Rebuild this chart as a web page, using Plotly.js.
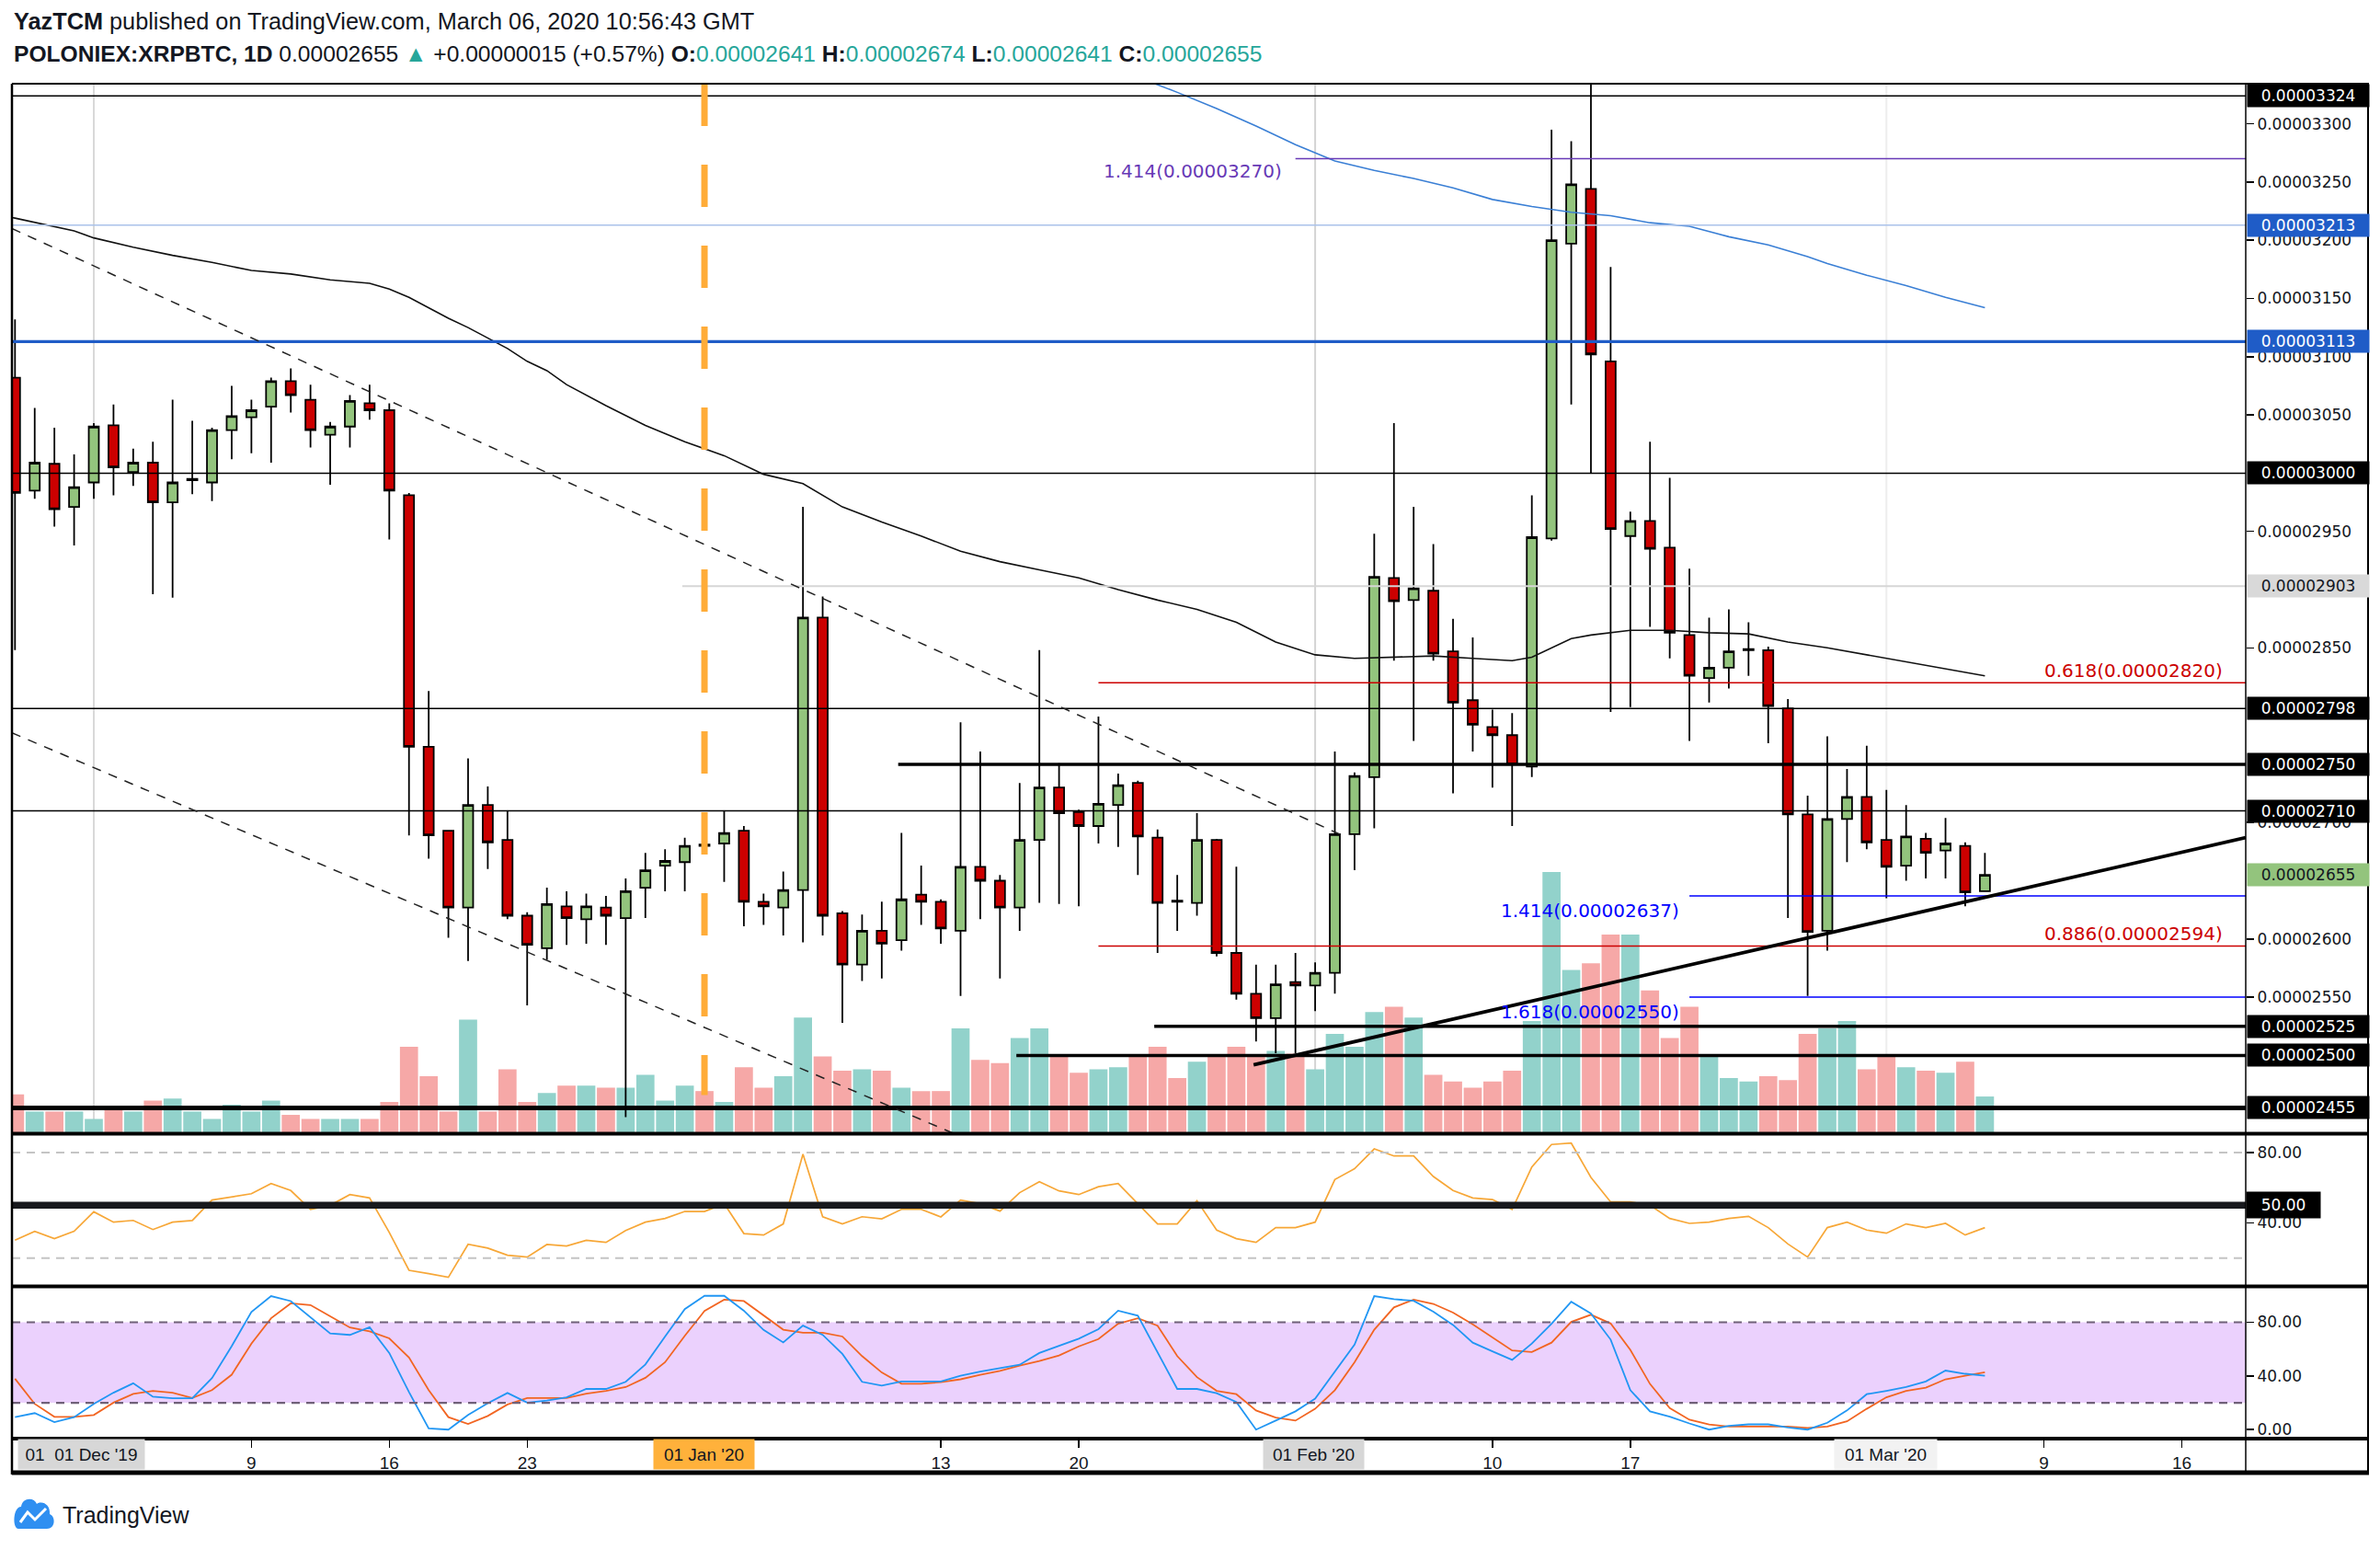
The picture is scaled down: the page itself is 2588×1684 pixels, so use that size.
<!DOCTYPE html>
<html>
<head>
<meta charset="utf-8">
<script src="https://cdn.plot.ly/plotly-3.0.1.min.js"></script>
<style>html,body{margin:0;padding:0;background:#ffffff;}#chart{width:2588px;height:1684px;}</style>
</head>
<body>
<div id="chart"></div>
<script>
// ---------------- DATA (prices in satoshi = 1e-8 BTC) ----------------
const dates = [
'2019-11-27','2019-11-28','2019-11-29','2019-11-30',
'2019-12-01','2019-12-02','2019-12-03','2019-12-04','2019-12-05','2019-12-06','2019-12-07','2019-12-08','2019-12-09','2019-12-10',
'2019-12-11','2019-12-12','2019-12-13','2019-12-14','2019-12-15','2019-12-16','2019-12-17','2019-12-18','2019-12-19','2019-12-20',
'2019-12-21','2019-12-22','2019-12-23','2019-12-24','2019-12-25','2019-12-26','2019-12-27','2019-12-28','2019-12-29','2019-12-30','2019-12-31',
'2020-01-01','2020-01-02','2020-01-03','2020-01-04','2020-01-05','2020-01-06','2020-01-07','2020-01-08','2020-01-09','2020-01-10',
'2020-01-11','2020-01-12','2020-01-13','2020-01-14','2020-01-15','2020-01-16','2020-01-17','2020-01-18','2020-01-19','2020-01-20',
'2020-01-21','2020-01-22','2020-01-23','2020-01-24','2020-01-25','2020-01-26','2020-01-27','2020-01-28','2020-01-29','2020-01-30','2020-01-31',
'2020-02-01','2020-02-02','2020-02-03','2020-02-04','2020-02-05','2020-02-06','2020-02-07','2020-02-08','2020-02-09','2020-02-10',
'2020-02-11','2020-02-12','2020-02-13','2020-02-14','2020-02-15','2020-02-16','2020-02-17','2020-02-18','2020-02-19','2020-02-20',
'2020-02-21','2020-02-22','2020-02-23','2020-02-24','2020-02-25','2020-02-26','2020-02-27','2020-02-28','2020-02-29',
'2020-03-01','2020-03-02','2020-03-03','2020-03-04','2020-03-05','2020-03-06'];

const openSat = [3082,2985,3008,2971,
2992,3041,3001,3009,2975,2994,2992,3037,3048,3057,3079,3063,3033,3040,3060,3054,2981,2765,2693,2627,2715,2685,2620,2592,2628,2617,2627,2618,2644,2663,2666,
2681,2682,2693,2632,2627,2642,2876,2622,2578,2607,2599,2638,2632,2607,2662,2650,2627,2685,2730,2709,2697,2715,2734,2687,2633,2631,2685,2588,2553,2532,2563,
2560,2571,2690,2739,2910,2891,2899,2847,2805,2782,2775,2748,2944,3197,3244,3096,2946,2959,2936,2861,2824,2833,2848,2848,2798,2707,2607,2703,2722,
2685,2663,2686,2676,2680,2641];
const highSat = [3132,3056,3039,3016,
3043,3059,3021,3027,3063,3045,3039,3075,3063,3082,3090,3076,3044,3067,3076,3060,2983,2813,2693,2755,2731,2710,2623,2644,2641,2639,2637,2652,2674,2677,2687,
2702,2710,2697,2639,2658,2971,2894,2624,2621,2632,2691,2663,2634,2786,2761,2655,2734,2848,2751,2711,2791,2742,2736,2694,2655,2708,2686,2662,2578,2578,2588,
2580,2761,2743,2948,3043,2971,2939,2875,2859,2797,2794,2981,3295,3285,3345,3177,2967,3027,2996,2918,2876,2883,2872,2851,2806,2723,2774,2746,2766,
2728,2715,2691,2704,2683,2674];
const lowSat = [2848,2978,2954,2938,
2978,2981,2989,2896,2893,2982,2976,3012,3017,3009,3052,3022,2990,3022,3046,2943,2689,2669,2601,2581,2660,2617,2543,2582,2595,2596,2595,2447,2618,2641,2641,
2675,2649,2611,2612,2603,2597,2603,2528,2564,2566,2590,2612,2596,2551,2617,2566,2607,2631,2630,2628,2682,2679,2655,2588,2607,2620,2585,2548,2512,2502,2502,
2538,2553,2659,2695,2839,2770,2839,2725,2761,2730,2697,2739,2942,3059,3000,2795,2799,2868,2841,2770,2803,2815,2826,2768,2618,2551,2590,2666,2677,
2635,2650,2652,2652,2628,2641];
const closeSat = [2983,3009,2969,2988,
3040,3005,3009,2975,2992,2995,3037,3049,3054,3079,3067,3037,3040,3062,3054,2985,2765,2689,2627,2715,2683,2620,2595,2630,2618,2628,2620,2641,2659,2667,2680,
2680,2691,2632,2628,2642,2876,2620,2578,2607,2596,2634,2632,2609,2662,2650,2627,2685,2730,2708,2697,2716,2732,2688,2631,2632,2685,2588,2553,2532,2561,2560,
2571,2690,2740,2911,2890,2901,2845,2803,2784,2775,2750,2945,3200,3248,3102,2952,2959,2935,2863,2826,2833,2847,2849,2800,2707,2606,2703,2722,2683,
2662,2688,2674,2682,2640,2655];

const volume = [57,32,32,32,
21,40,32,48,51,32,21,42,32,48,27,21,21,21,21,46,127,84,32,167,32,94,46,59,70,70,67,67,86,48,70,
62,46,97,67,84,170,113,92,94,92,67,62,62,154,108,103,140,154,113,89,94,97,113,127,81,105,113,127,113,121,117,
94,146,127,178,186,170,86,76,67,76,92,165,384,240,250,292,292,210,140,186,115,81,76,84,78,146,154,165,94,
115,97,92,89,105,54];

const rsi = [30.1,35.2,31.0,35.2,
46.3,40.4,41.4,36.2,40.4,41.3,53.0,54.9,56.6,62.4,58.4,47.7,50.0,56.1,54.2,34.5,13.0,11.1,9.0,27.8,25.6,21.6,20.5,27.7,26.8,30.1,28.9,35.7,40.4,42.5,46.5,
46.5,50.9,33.9,33.1,39.4,79.1,43.5,39.4,43.5,42.3,47.7,47.7,43.4,53.0,50.9,46.7,57.2,63.4,58.2,56.1,60.6,62.4,50.9,39.4,39.4,52.6,35.9,31.0,28.9,37.3,37.3,
40.4,64.7,70.8,82.1,78.1,78.1,66.4,58.4,54.2,53.3,47.7,71.8,84.6,85.4,65.9,51.9,51.9,50.0,42.5,39.7,40.4,42.5,43.7,37.3,28.0,20.5,37.3,40.4,35.9,
34.1,39.4,37.3,39.7,33.1,37.3];

const stochK = [9.3,12.3,5.6,9.3,
19.2,27.5,34.5,24.5,23.4,23.4,38.4,62.2,87.7,99.5,95.8,84.0,71.7,70.6,76.3,57.1,28.0,0.9,0.0,10.9,19.7,27.3,20.1,21.7,24.1,30.3,30.3,35.6,48.6,69.4,89.8,
99.7,99.7,88.6,74.3,65.0,77.5,70.6,56.4,35.6,32.8,35.9,35.9,35.9,40.2,43.3,45.8,48.3,57.1,62.2,67.8,74.9,88.6,84.9,57.1,30.3,30.3,27.1,20.6,0.0,6.7,13.6,
23.1,43.3,63.4,99.5,97.2,96.0,87.9,78.0,64.8,58.3,52.0,64.1,78.9,95.3,86.5,67.1,29.4,13.6,9.7,4.6,0.0,2.8,3.9,3.9,1.6,0.0,5.1,14.3,26.4,
28.9,31.7,35.9,44.0,41.6,40.2];
const stochD = [37.9,19.2,9.5,9.5,
10.9,20.1,26.6,28.9,27.5,23.6,29.4,40.9,64.1,83.0,94.1,92.8,84.4,76.1,73.3,68.0,53.7,29.4,9.3,4.2,10.2,18.7,23.6,23.6,23.6,26.8,28.9,31.7,38.6,50.2,69.9,
88.4,96.9,95.8,84.9,74.5,72.2,72.2,69.4,54.8,42.6,34.2,34.2,35.4,37.5,40.9,43.7,47.7,51.1,55.3,62.0,67.5,78.9,83.0,77.5,54.8,39.1,28.9,26.4,14.3,9.0,6.7,
15.5,29.4,50.2,74.5,91.1,96.9,93.7,87.2,78.4,68.7,59.0,57.8,64.8,80.3,85.6,79.1,59.4,34.0,16.0,7.4,3.9,2.3,2.3,2.3,2.3,1.2,2.3,6.2,15.5,
24.1,28.9,31.2,37.5,40.2,42.8];

const maBlackDates = ['2019-11-26','2019-11-27','2019-11-30','2019-12-01','2019-12-03','2019-12-05','2019-12-07','2019-12-09','2019-12-11','2019-12-13','2019-12-15',
'2019-12-16','2019-12-17','2019-12-18','2019-12-19','2019-12-20','2019-12-21','2019-12-22','2019-12-23','2019-12-24','2019-12-25','2019-12-27','2019-12-29','2019-12-31',
'2020-01-02','2020-01-04','2020-01-06','2020-01-08','2020-01-10','2020-01-12','2020-01-14','2020-01-16','2020-01-18','2020-01-20','2020-01-22','2020-01-24',
'2020-01-26','2020-01-28','2020-01-30','2020-02-01','2020-02-03','2020-02-05','2020-02-07','2020-02-09','2020-02-11','2020-02-12','2020-02-13','2020-02-14',
'2020-02-15','2020-02-17','2020-02-19','2020-02-21','2020-02-23','2020-02-25','2020-02-27','2020-03-01','2020-03-03','2020-03-06'];
const maBlackSat = [3222,3219,3208,3202,3194,3187,3181,3174,3171,3166,3163,
3158,3151,3142,3133,3125,3116,3107,3096,3088,3076,3058,3041,3027,
3015,2999,2991,2971,2958,2946,2933,2924,2917,2910,2900,2891,
2883,2872,2855,2844,2841,2842,2843,2841,2839,2842,2850,2858,
2861,2865,2865,2863,2862,2855,2850,2841,2835,2826];

const maBlueDates = ['2020-01-23','2020-01-25','2020-01-27','2020-01-29','2020-01-31','2020-02-02','2020-02-04','2020-02-06','2020-02-08','2020-02-10',
'2020-02-12','2020-02-14','2020-02-16','2020-02-18','2020-02-20','2020-02-22','2020-02-24','2020-02-26','2020-02-27','2020-02-29','2020-03-02','2020-03-04','2020-03-06'];
const maBlueSat = [3340,3327,3313,3298,3282,3268,3260,3253,3245,3235,
3229,3224,3221,3215,3212,3203,3196,3186,3180,3170,3161,3151,3142];

// visible price-scale ticks (the others sit under the level boxes)
const priceTicks = [2550,2600,2700,2850,2950,3050,3100,3150,3200,3250,3300];
const xTickDates = ['2019-12-01','2019-12-09','2019-12-16','2019-12-23','2020-01-01','2020-01-13','2020-01-20','2020-02-01','2020-02-10','2020-02-17','2020-03-01','2020-03-09','2020-03-16'];
const xTickText  = ['','9','16','23','','13','20','','10','17','','9','16'];

// key levels (satoshi)
const lvlTop = 3324, fibUp1414 = 3270, res3213 = 3213, res3113 = 3113, res3000 = 3000, lvl2903 = 2903,
      fib0618 = 2820, lvl2798 = 2798, lvl2750 = 2750, lvl2710 = 2710, fibDn1414 = 2637, fib0886 = 2594,
      fibDn1618 = 2550, sup2525 = 2525, sup2500 = 2500, sup2455 = 2455, lastPrice = 2655;
const trendUp = {d0:'2020-01-28 21:00', v0:2492, d1:'2020-03-19 05:46', v1:2687};
const trendDn1 = {d0:'2019-11-26 20:17', v0:3210, d1:'2020-02-02 15:00', v1:2687};
const trendDn2 = {d0:'2019-11-26 20:17', v0:2777, d1:'2020-01-13 19:00', v1:2432};

// ---------------- LAYOUT HELPERS ----------------
const W = 2588, H = 1684, ML = 13, MR = 146, MT = 91, MB = 119;
const PW = W - ML - MR, PH = H - MT - MB;
const px = X => (X - ML) / PW;
const py = Y => (H - MB - Y) / PH;
const SAT = 1e-8;
const P = v => v * SAT;
const xL = '2019-11-26 20:17', xR = '2020-03-19 05:46';
const UP = '#93c47d', DN = '#cc0000', TEAL = '#26a69a';
const mainDom = [py(1232), 1], rsiDom = [py(1398), py(1233)], stDom = [0, py(1399)];
const F_AX = 'DejaVu Sans, Verdana, sans-serif';
const F_TX = 'Liberation Sans, Arial, sans-serif';

const volColors = closeSat.map((c, i) => c >= openSat[i] ? '#92d2cb' : '#f6a8a7');

const traces = [
  {type:'bar', x:dates, y:volume, xaxis:'x', yaxis:'y', marker:{color:volColors, line:{width:0}}, hoverinfo:'skip'},
  {type:'candlestick', x:dates, open:openSat.map(P), high:highSat.map(P), low:lowSat.map(P), close:closeSat.map(P),
   xaxis:'x', yaxis:'y4', whiskerwidth:0,
   increasing:{fillcolor:UP, line:{color:'#000000', width:1.8}},
   decreasing:{fillcolor:DN, line:{color:'#000000', width:1.8}}, hoverinfo:'skip'},
  {type:'scatter', mode:'lines', x:maBlackDates, y:maBlackSat.map(P), xaxis:'x', yaxis:'y4', line:{color:'#111111', width:1.6}, hoverinfo:'skip'},
  {type:'scatter', mode:'lines', x:maBlueDates, y:maBlueSat.map(P), xaxis:'x', yaxis:'y4', line:{color:'#3a7fd5', width:1.6}, hoverinfo:'skip'},
  {type:'scatter', mode:'lines', x:dates, y:rsi, xaxis:'x', yaxis:'y2', line:{color:'#f7a737', width:1.7}, hoverinfo:'skip'},
  {type:'scatter', mode:'lines', x:dates, y:stochD, xaxis:'x', yaxis:'y3', line:{color:'#f26522', width:1.8}, hoverinfo:'skip'},
  {type:'scatter', mode:'lines', x:dates, y:stochK, xaxis:'x', yaxis:'y3', line:{color:'#2196f3', width:1.8}, hoverinfo:'skip'}
];

function hl(v, x0, color, width, dash) {
  return {type:'line', xref:'x', yref:'y4', x0:x0, x1:xR, y0:P(v), y1:P(v), line:{color:color, width:width, dash:dash || 'solid'}};
}
function seg(t, color, width, dash) {
  return {type:'line', xref:'x', yref:'y4', x0:t.d0, x1:t.d1, y0:P(t.v0), y1:P(t.v1), line:{color:color, width:width, dash:dash || 'solid'}};
}
function pline(x0, y0, x1, y1, w, c) {
  return {type:'line', xref:'paper', yref:'paper', x0:x0, x1:x1, y0:y0, y1:y1, line:{color:c || '#000000', width:w}};
}

const shapes = [
  {type:'line', layer:'below', xref:'x', yref:'paper', x0:'2019-12-01', x1:'2019-12-01', y0:mainDom[0], y1:1, line:{color:'#d9d9d9', width:2}},
  {type:'line', layer:'below', xref:'x', yref:'paper', x0:'2020-02-01', x1:'2020-02-01', y0:mainDom[0], y1:1, line:{color:'#d4d4d4', width:2}},
  {type:'line', layer:'below', xref:'x', yref:'paper', x0:'2020-03-01', x1:'2020-03-01', y0:mainDom[0], y1:1, line:{color:'#eeeeee', width:2}},
  hl(lvlTop, xL, '#000000', 1.5),
  hl(fibUp1414, '2020-01-31', '#6739b6', 1.5),
  hl(res3213, xL, '#aac2ea', 1.5),
  hl(res3113, xL, '#1f5cc7', 3.2),
  hl(res3000, xL, '#000000', 1.5),
  hl(lvl2903, '2019-12-30 21:00', '#d6d6d6', 2),
  hl(fib0618, '2020-01-21', '#cc0000', 1.5),
  hl(lvl2798, xL, '#000000', 1.5),
  hl(lvl2750, '2020-01-10 20:00', '#000000', 3.5),
  hl(lvl2710, xL, '#000000', 1.5),
  hl(fibDn1414, '2020-02-20', '#0000ff', 1.5),
  hl(fib0886, '2020-01-21', '#cc0000', 1.5),
  hl(fibDn1618, '2020-02-20', '#0000ff', 1.5),
  hl(sup2525, '2020-01-23 20:00', '#000000', 3.5),
  hl(sup2500, '2020-01-16 20:00', '#000000', 3.5),
  hl(sup2455, xL, '#000000', 5),
  seg(trendDn1, '#222222', 1.5, '10px,9px'),
  seg(trendDn2, '#222222', 1.5, '10px,9px'),
  seg(trendUp, '#000000', 3.8),
  {type:'line', xref:'x', yref:'y4', x0:'2020-01-01', x1:'2020-01-01', y0:P(3334.4), y1:P(2466), line:{color:'#ffac38', width:7, dash:'46px,42px'}},
  {type:'line', xref:'x', yref:'y2', x0:xL, x1:xR, y0:80, y1:80, line:{color:'#c4c4c4', width:2, dash:'9px,7px'}},
  {type:'line', xref:'x', yref:'y2', x0:xL, x1:xR, y0:20, y1:20, line:{color:'#c4c4c4', width:2, dash:'9px,7px'}},
  {type:'line', xref:'x', yref:'y2', x0:xL, x1:xR, y0:50, y1:50, line:{color:'#18191d', width:7.5}},
  {type:'rect', layer:'below', xref:'x', yref:'y3', x0:xL, x1:xR, y0:20, y1:80, fillcolor:'#ebd1fd', line:{width:0}},
  {type:'line', xref:'x', yref:'y3', x0:xL, x1:xR, y0:80, y1:80, line:{color:'#706179', width:2.2, dash:'9px,7px'}},
  {type:'line', xref:'x', yref:'y3', x0:xL, x1:xR, y0:20, y1:20, line:{color:'#706179', width:2.2, dash:'9px,7px'}},
  pline(0, 1, px(2576), 1, 2),
  pline(0, py(1232.5), px(2576), py(1232.5), 4),
  pline(0, py(1398.5), px(2576), py(1398.5), 4),
  pline(0, py(1564), px(2576), py(1564), 4),
  pline(0, py(1601), px(2576), py(1601), 5),
  pline(0, py(1603), 0, 1, 2.5),
  pline(1, py(1601), 1, 1, 1.5),
  pline(px(2575), py(1603), px(2575), 1, 2),
  {type:'path', xref:'paper', yref:'paper', xsizemode:'pixel', ysizemode:'pixel', xanchor:0, yanchor:py(1647),
   path:'M 7,-15 L 38,-15 C 47,-15 48,-2 41,1 C 42,11 33,16 27,12 C 24,20 11,19 10,9 C 1,9 0,-15 7,-15 Z',
   fillcolor:'#2f8ff1', line:{width:0}},
  {type:'path', xref:'paper', yref:'paper', xsizemode:'pixel', ysizemode:'pixel', xanchor:0, yanchor:py(1647),
   path:'M 9,-8 L 17,3 L 25,-5 L 37,7', line:{color:'#ffffff', width:3}}
];

function priceBox(v, bg, fg) {
  return {xref:'paper', yref:'y4', x:px(2443), y:P(v), xanchor:'left', yanchor:'middle', showarrow:false,
    text:(v * SAT).toFixed(8), bgcolor:bg, width:128, height:20, borderpad:2, align:'center',
    font:{family:F_AX, size:17, color:fg}};
}
function fibLabel(txt, xp, v, shift, color) {
  return {xref:'paper', yref:'y4', x:xp, y:P(v), yshift:shift, xanchor:'right', yanchor:'middle', showarrow:false,
    text:txt, font:{family:F_AX, size:20, color:color}};
}
function dateBox(txt, cx, w, bg) {
  return {xref:'paper', yref:'paper', x:px(cx), y:py(1581), xanchor:'center', yanchor:'middle', showarrow:false,
    text:txt, bgcolor:bg, width:w, height:32, borderpad:0, align:'center', font:{family:F_TX, size:19, color:'#131722'}};
}
const fmt = v => (v * SAT).toFixed(8);
const tealSpan = s => '<span style="color:' + TEAL + '">' + s + '</span>';

const annotations = [
  {xref:'paper', yref:'paper', x:0, y:py(23), xanchor:'left', yanchor:'middle', showarrow:false,
   text:'<b>YazTCM</b> published on TradingView.com, March 06, 2020 10:56:43 GMT', font:{family:F_TX, size:25.3, color:'#131722'}},
  {xref:'paper', yref:'paper', x:0, y:py(58), xanchor:'left', yanchor:'middle', showarrow:false,
   text:'<b>POLONIEX:XRPBTC, 1D</b> ' + fmt(lastPrice) + ' ' + tealSpan('▲') + ' +0.00000015 (+0.57%) <b>O:</b>' + tealSpan(fmt(openSat[100])) +
        ' <b>H:</b>' + tealSpan(fmt(highSat[100])) + ' <b>L:</b>' + tealSpan(fmt(lowSat[100])) + ' <b>C:</b>' + tealSpan(fmt(closeSat[100])),
   font:{family:F_TX, size:24.6, color:'#131722'}},
  fibLabel('1.414(' + fmt(fibUp1414) + ')', px(1396), fibUp1414, -13, '#6739b6'),
  fibLabel('1.414(' + fmt(fibDn1414) + ')', px(1828), fibDn1414, -16, '#0000ff'),
  fibLabel('1.618(' + fmt(fibDn1618) + ')', px(1828), fibDn1618, -16, '#0000ff'),
  fibLabel('0.618(' + fmt(fib0618) + ')', px(2419), fib0618, 13, '#cc0000'),
  fibLabel('0.886(' + fmt(fib0886) + ')', px(2419), fib0886, 13, '#cc0000'),
  priceBox(lvlTop, '#000000', '#ffffff'),
  priceBox(res3213, '#1f5cc7', '#ffffff'),
  priceBox(res3113, '#1f5cc7', '#ffffff'),
  priceBox(res3000, '#000000', '#ffffff'),
  priceBox(lvl2903, '#d9d9d9', '#131722'),
  priceBox(lvl2798, '#000000', '#ffffff'),
  priceBox(lvl2750, '#000000', '#ffffff'),
  priceBox(lvl2710, '#000000', '#ffffff'),
  priceBox(lastPrice, UP, '#131722'),
  priceBox(sup2525, '#000000', '#ffffff'),
  priceBox(sup2500, '#000000', '#ffffff'),
  priceBox(sup2455, '#000000', '#ffffff'),
  {xref:'paper', yref:'y2', x:px(2442), y:50, xanchor:'left', yanchor:'middle', showarrow:false, text:'50.00',
   bgcolor:'#000000', width:76, height:24, borderpad:2, align:'center', font:{family:F_AX, size:17, color:'#ffffff'}},
  dateBox("01  01 Dec '19", 88.5, 137, '#d7d7d7'),
  dateBox("01 Jan '20", 765.5, 109, '#ffb13b'),
  dateBox("01 Feb '20", 1428.5, 109, '#d7d7d7'),
  dateBox("01 Mar '20", 2050.5, 111, '#f2f2f2'),
  {xref:'paper', yref:'paper', x:px(66), y:py(1647), xanchor:'left', yanchor:'middle', showarrow:false,
   text:'TradingView', font:{family:F_TX, size:25, color:'#131722'}}
];

const axFont = {family:F_AX, size:17, color:'#131722'};
const layout = {
  width:W, height:H, autosize:false,
  margin:{l:ML, r:MR, t:MT, b:MB, pad:0},
  paper_bgcolor:'#ffffff', plot_bgcolor:'#ffffff',
  showlegend:false, hovermode:false, dragmode:false,
  bargap:0.08, boxgap:0.3, boxgroupgap:0.27,
  xaxis:{type:'date', range:[xL, xR], anchor:'y3', showgrid:false, zeroline:false, showline:false,
    tickmode:'array', tickvals:xTickDates, ticktext:xTickText, ticks:'outside', ticklen:8, tickwidth:1.5, tickcolor:'#000000',
    tickfont:{family:F_TX, size:19, color:'#131722'}, rangeslider:{visible:false}, fixedrange:true},
  yaxis:{domain:mainDom, range:[0, 1543], visible:false, fixedrange:true},
  yaxis4:{overlaying:'y', side:'right', anchor:'x', range:[P(2433.2), P(3334.4)], showgrid:false, zeroline:false, showline:false,
    tickmode:'array', tickvals:priceTicks.map(P), tickformat:'.8f', ticks:'outside', ticklen:8, tickwidth:1.5, tickcolor:'#000000',
    tickfont:axFont, fixedrange:true},
  yaxis2:{domain:rsiDom, side:'right', anchor:'x', range:[4.1, 90.5], showgrid:false, zeroline:false, showline:false,
    tickmode:'array', tickvals:[40, 80], tickformat:'.2f', ticks:'outside', ticklen:8, tickwidth:1.5, tickcolor:'#000000',
    tickfont:axFont, fixedrange:true},
  yaxis3:{domain:stDom, side:'right', anchor:'x', range:[-7.4, 106.4], showgrid:false, zeroline:false, showline:false,
    tickmode:'array', tickvals:[0, 40, 80], tickformat:'.2f', ticks:'outside', ticklen:8, tickwidth:1.5, tickcolor:'#000000',
    tickfont:axFont, fixedrange:true},
  shapes:shapes,
  annotations:annotations
};

Plotly.newPlot('chart', traces, layout, {staticPlot:true, displayModeBar:false});
</script>
</body>
</html>
